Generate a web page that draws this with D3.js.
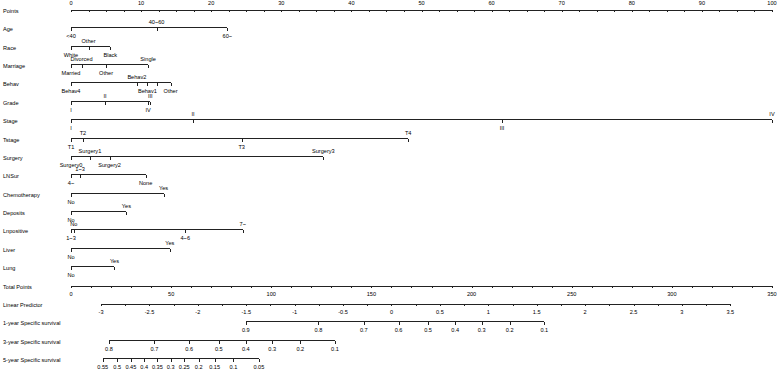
<!doctype html>
<html>
<head>
  <script src="https://cdnjs.cloudflare.com/ajax/libs/d3/7.8.5/d3.min.js"></script>
  <style>
    body { margin: 0; background: #fff; }
    svg text { font-family: "Liberation Sans", Arial, sans-serif; font-size: 5.6px; fill: #000; }
    .axis path, .axis line { stroke: #222; stroke-width: 1; shape-rendering: crispEdges; }
  </style>
</head>
<body>
<div id="viz"><svg width="777" height="370"></svg></div>
<script>
// ---- data ----
const pointLabels = [0, 10, 20, 30, 40, 50, 60, 70, 80, 90, 100];
const totalLabels = [0, 50, 100, 150, 200, 250, 300, 350];
const lpLabels = [-3, -2.5, -2, -1.5, -1, -0.5, 0, 0.5, 1, 1.5, 2, 2.5, 3, 3.5];
const lpRange = [-3, 3.5];
const lpTotalPoints = [15.0, 329.2];   // total points where the LP axis starts / ends

const ageLabels = ["<40", "40~60", "60~"];
const agePoints = [0, 12.2, 22.3];
const raceLabels = ["White", "Other", "Black"];
const racePoints = [0, 2.5, 5.6];
const marriageLabels = ["Married", "Divorced", "Other", "Single"];
const marriagePoints = [0, 1.5, 5.0, 11.0];
const behavLabels = ["Behav4", "Behav2", "Behav1", "Behav3", "Other"];
const behavPoints = [0, 9.4, 10.9, 12.2, 14.2];
const gradeLabels = ["I", "II", "IV", "III"];
const gradePoints = [0, 4.85, 11.0, 11.3];
const stageLabels = ["I", "II", "III", "IV"];
const stagePoints = [0, 17.4, 61.5, 100];
const tstageLabels = ["T1", "T2", "T3", "T4"];
const tstagePoints = [0, 1.7, 24.35, 48.1];
const surgeryLabels = ["Surgery0", "Surgery1", "Surgery2", "Surgery3"];
const surgeryPoints = [0, 2.7, 5.5, 36.0];
const lnsurLabels = ["4~", "1~3", "None"];
const lnsurPoints = [0, 1.3, 10.65];
const chemoLabels = ["No", "Yes"];
const chemoPoints = [0, 13.2];
const depositsLabels = ["No", "Yes"];
const depositsPoints = [0, 7.9];
const lnposLabels = ["1~3", "No", "4~6", "7~"];
const lnposPoints = [0, 0.4, 16.3, 24.5];
const liverLabels = ["No", "Yes"];
const liverPoints = [0, 14.1];
const lungLabels = ["No", "Yes"];
const lungPoints = [0, 6.2];
const hiddenLabels = ["Behav3"];   // tick drawn, label not shown in the original

const surv1Labels = ["0.9", "0.8", "0.7", "0.6", "0.5", "0.4", "0.3", "0.2", "0.1"];
const surv1Lp = [-1.505, -0.755, -0.286, 0.073, 0.378, 0.658, 0.931, 1.221, 1.579];
const surv3Labels = ["0.8", "0.7", "0.6", "0.5", "0.4", "0.3", "0.2", "0.1"];
const surv3Lp = [-2.918, -2.449, -2.090, -1.784, -1.505, -1.232, -0.942, -0.584];
const surv5Labels = ["0.55", "0.5", "0.45", "0.4", "0.35", "0.3", "0.25", "0.2", "0.15", "0.1", "0.05"];
const surv5Lp = [-2.982, -2.833, -2.692, -2.554, -2.418, -2.281, -2.140, -1.991, -1.827, -1.633, -1.370];

const variables = [
  { name: "Age", labels: ageLabels, points: agePoints },
  { name: "Race", labels: raceLabels, points: racePoints },
  { name: "Marriage", labels: marriageLabels, points: marriagePoints },
  { name: "Behav", labels: behavLabels, points: behavPoints },
  { name: "Grade", labels: gradeLabels, points: gradePoints },
  { name: "Stage", labels: stageLabels, points: stagePoints },
  { name: "Tstage", labels: tstageLabels, points: tstagePoints },
  { name: "Surgery", labels: surgeryLabels, points: surgeryPoints },
  { name: "LNSur", labels: lnsurLabels, points: lnsurPoints },
  { name: "Chemotherapy", labels: chemoLabels, points: chemoPoints },
  { name: "Deposits", labels: depositsLabels, points: depositsPoints },
  { name: "Lnpositive", labels: lnposLabels, points: lnposPoints },
  { name: "Liver", labels: liverLabels, points: liverPoints },
  { name: "Lung", labels: lungLabels, points: lungPoints }
];
const survivals = [
  { name: "1-year Specific survival", labels: surv1Labels, lp: surv1Lp },
  { name: "3-year Specific survival", labels: surv3Labels, lp: surv3Lp },
  { name: "5-year Specific survival", labels: surv5Labels, lp: surv5Lp }
];

// ---- layout ----
const svg = d3.select("svg");
const xPts = d3.scaleLinear().domain([0, 100]).range([71, 772]);
const xTot = d3.scaleLinear().domain([0, 350]).range([71, 772]);
const xLp = d3.scaleLinear().domain(lpRange).range(lpTotalPoints.map(xTot));
const rowY = i => Math.round(9 + i * 18.37) + 0.5;
const TICK = 3;

function rowName(i, text) {
  svg.append("text").attr("x", 3).attr("y", rowY(i) + 3).text(text);
}

// Points axis (labels above)
rowName(0, "Points");
svg.append("g").attr("class", "axis")
  .attr("transform", `translate(0,${rowY(0)})`)
  .call(d3.axisBottom(xPts).tickValues(d3.range(0, 100.01, 2.5)).tickSize(2).tickSizeOuter(0).tickFormat(""));
svg.selectAll("text.ptlab").data(pointLabels).enter().append("text")
  .attr("class", "ptlab")
  .attr("x", d => xPts(d)).attr("y", rowY(0) - 5)
  .attr("text-anchor", "middle").text(d => d);

// variable axes
variables.forEach((v, k) => {
  const i = k + 1, y = rowY(i);
  rowName(i, v.name);
  const lo = d3.min(v.points), hi = d3.max(v.points);
  const g = svg.append("g").attr("class", "axis").attr("transform", `translate(0,${y})`);
  g.append("line").attr("x1", xPts(lo)).attr("x2", xPts(hi)).attr("y1", 0).attr("y2", 0);
  const ax = d3.axisBottom(xPts).tickValues(v.points).tickSize(TICK).tickSizeOuter(0).tickFormat("");
  g.call(ax);
  g.select(".domain").remove();
  // alternate below/above by rank of points
  const order = d3.range(v.points.length).sort((a, b) => v.points[a] - v.points[b]);
  order.forEach((idx, r) => {
    if (hiddenLabels.includes(v.labels[idx])) return;
    svg.append("text")
      .attr("x", xPts(v.points[idx]))
      .attr("y", r % 2 === 0 ? y + 10.5 : y - 3.5)
      .attr("text-anchor", "middle")
      .text(v.labels[idx]);
  });
});

// Total points
const iTot = variables.length + 1;
rowName(iTot, "Total Points");
svg.append("g").attr("class", "axis")
  .attr("transform", `translate(0,${rowY(iTot)})`)
  .call(d3.axisBottom(xTot).tickValues(d3.range(0, 350.01, 10)).tickSize(2).tickSizeOuter(0).tickFormat(""));
svg.selectAll("text.totlab").data(totalLabels).enter().append("text")
  .attr("class", "totlab")
  .attr("x", d => xTot(d)).attr("y", rowY(iTot) + 10.5)
  .attr("text-anchor", "middle").text(d => d);

// Linear predictor
const iLp = iTot + 1;
rowName(iLp, "Linear Predictor");
svg.append("g").attr("class", "axis")
  .attr("transform", `translate(0,${rowY(iLp)})`)
  .call(d3.axisBottom(xLp).tickValues(d3.range(-3, 3.51, 0.25)).tickSize(2).tickSizeOuter(0).tickFormat(""));
svg.selectAll("text.lplab").data(lpLabels).enter().append("text")
  .attr("class", "lplab")
  .attr("x", d => xLp(d)).attr("y", rowY(iLp) + 10.5)
  .attr("text-anchor", "middle").text(d => d);

// survival axes
survivals.forEach((s, k) => {
  const i = iLp + 1 + k, y = rowY(i);
  rowName(i, s.name);
  const g = svg.append("g").attr("class", "axis").attr("transform", `translate(0,${y})`);
  g.append("line").attr("x1", xLp(d3.min(s.lp))).attr("x2", xLp(d3.max(s.lp))).attr("y1", 0).attr("y2", 0);
  g.call(d3.axisBottom(xLp).tickValues(s.lp).tickSize(TICK).tickSizeOuter(0).tickFormat(""));
  g.select(".domain").remove();
  s.lp.forEach((lp, j) => {
    svg.append("text")
      .attr("x", xLp(lp)).attr("y", y + 10.5)
      .attr("text-anchor", "middle").text(s.labels[j]);
  });
});
</script>
</body>
</html>
